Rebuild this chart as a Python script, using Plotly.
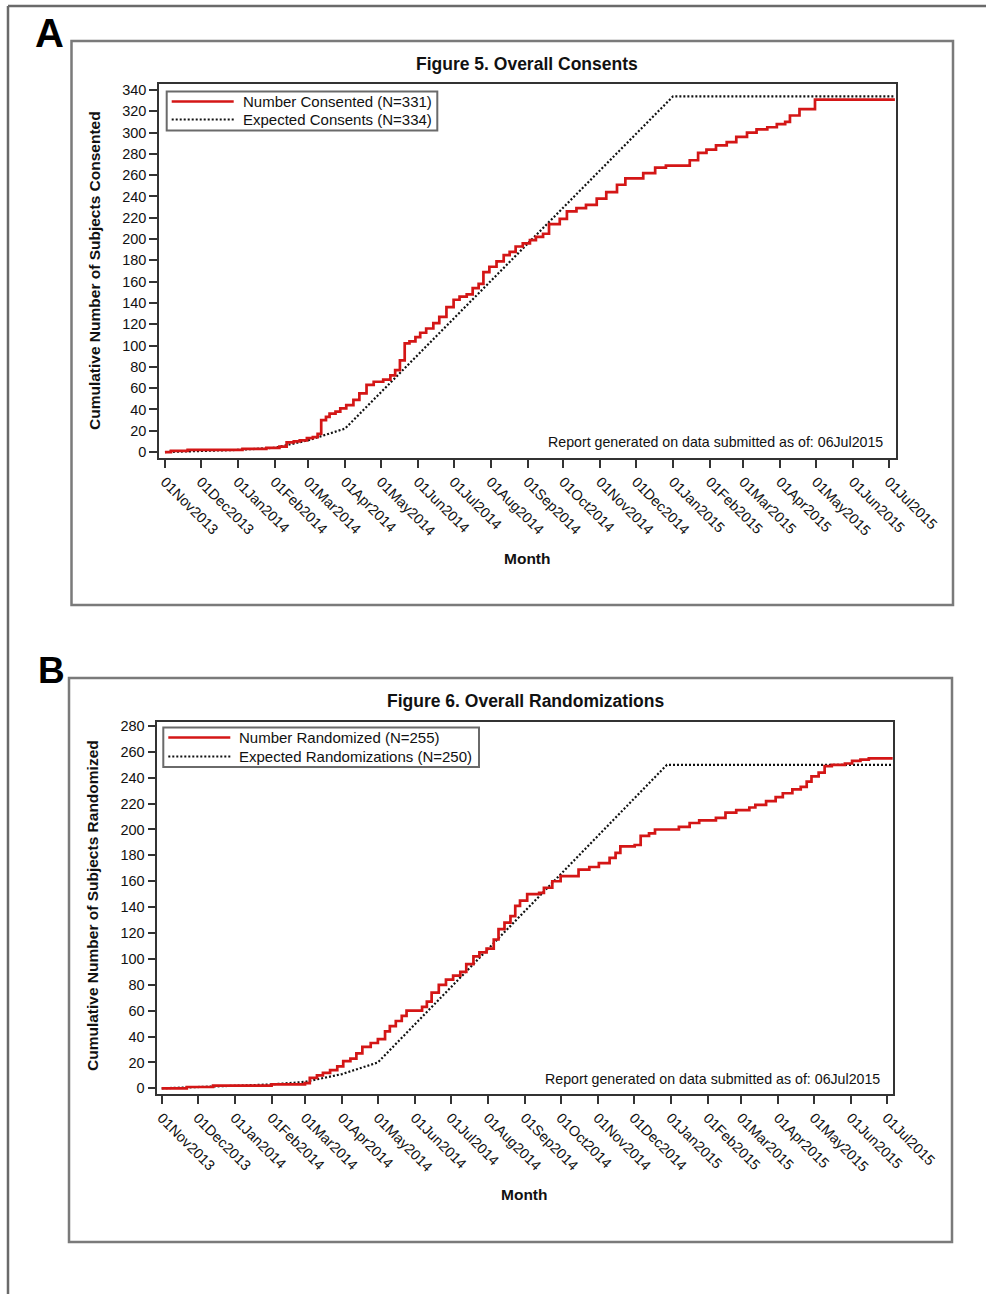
import plotly.graph_objects as go

# ---------------- Data ----------------
consent_dates = [
    "2013-11-01", "2013-11-06", "2013-11-20", "2014-01-05", "2014-01-25", "2014-02-05",
    "2014-02-11", "2014-02-17", "2014-02-22", "2014-02-28", "2014-03-05", "2014-03-09",
    "2014-03-12", "2014-03-16", "2014-03-19", "2014-03-24", "2014-03-28", "2014-04-02",
    "2014-04-08", "2014-04-13", "2014-04-19", "2014-04-25", "2014-05-03", "2014-05-09",
    "2014-05-13", "2014-05-17", "2014-05-21", "2014-05-25", "2014-05-30", "2014-06-03",
    "2014-06-08", "2014-06-14", "2014-06-19", "2014-06-25", "2014-07-01", "2014-07-06",
    "2014-07-12", "2014-07-17", "2014-07-22", "2014-07-26", "2014-07-31", "2014-08-06",
    "2014-08-12", "2014-08-17", "2014-08-22", "2014-08-28", "2014-09-03", "2014-09-08",
    "2014-09-14", "2014-09-19", "2014-09-28", "2014-10-04", "2014-10-12", "2014-10-20",
    "2014-10-29", "2014-11-06", "2014-11-15", "2014-11-22", "2014-12-07", "2014-12-17",
    "2014-12-26", "2015-01-15", "2015-01-22", "2015-01-29", "2015-02-06", "2015-02-15",
    "2015-02-23", "2015-03-04", "2015-03-12", "2015-03-21", "2015-03-29", "2015-04-05",
    "2015-04-09", "2015-04-17", "2015-04-30", "2015-07-06",
]
consent_values = [
    0, 1, 2, 3, 4, 5,
    9, 10, 11, 13, 14, 17,
    30, 33, 36, 38, 41, 44,
    49, 55, 63, 66, 68, 72,
    77, 86, 102, 104, 108, 112,
    116, 121, 127, 136, 143, 146,
    148, 154, 158, 169, 174, 179,
    185, 188, 193, 196, 199, 202,
    205, 214, 219, 226, 229, 232,
    238, 244, 251, 257, 262, 267,
    269, 274, 281, 284, 288, 291,
    296, 300, 303, 305, 308, 310,
    316, 322, 331, 331,
]
expected_consent_dates = ["2013-11-01", "2013-12-01", "2014-01-01", "2014-02-01",
                          "2014-03-01", "2014-04-01", "2015-01-01", "2015-07-06"]
expected_consent_values = [0, 1, 2, 4, 11, 22, 334, 334]

random_dates = [
    "2013-11-01", "2013-11-22", "2013-12-14", "2014-02-01", "2014-03-01", "2014-03-05",
    "2014-03-11", "2014-03-16", "2014-03-22", "2014-03-28", "2014-04-02", "2014-04-08",
    "2014-04-13", "2014-04-18", "2014-04-25", "2014-05-01", "2014-05-07", "2014-05-11",
    "2014-05-16", "2014-05-21", "2014-05-25", "2014-06-07", "2014-06-11", "2014-06-15",
    "2014-06-21", "2014-06-27", "2014-07-03", "2014-07-09", "2014-07-14", "2014-07-20",
    "2014-07-25", "2014-07-31", "2014-08-06", "2014-08-10", "2014-08-15", "2014-08-20",
    "2014-08-24", "2014-08-28", "2014-09-03", "2014-09-13", "2014-09-17", "2014-09-24",
    "2014-10-01", "2014-10-16", "2014-10-25", "2014-11-02", "2014-11-11", "2014-11-16",
    "2014-11-20", "2014-12-02", "2014-12-07", "2014-12-14", "2014-12-19", "2015-01-08",
    "2015-01-17", "2015-01-25", "2015-02-08", "2015-02-16", "2015-02-25", "2015-03-08",
    "2015-03-13", "2015-03-22", "2015-03-30", "2015-04-05", "2015-04-13", "2015-04-20",
    "2015-04-25", "2015-04-29", "2015-05-05", "2015-05-10", "2015-05-16", "2015-05-27",
    "2015-06-02", "2015-06-09", "2015-06-16", "2015-07-06",
]
random_values = [
    0, 1, 2, 3, 4, 8,
    10, 12, 14, 17, 21, 23,
    27, 32, 35, 38, 44, 48,
    52, 56, 60, 63, 67, 74,
    80, 84, 87, 90, 96, 102,
    105, 108, 115, 123, 128, 133,
    141, 145, 150, 151, 155, 160,
    164, 169, 171, 174, 178, 182,
    187, 188, 195, 197, 200, 202,
    205, 207, 209, 213, 215, 217,
    219, 222, 225, 228, 231, 233,
    237, 241, 244, 249, 250, 251,
    253, 254, 255, 255,
]
expected_random_dates = ["2013-11-01", "2013-12-01", "2014-01-01", "2014-02-01",
                         "2014-03-01", "2014-04-01", "2014-05-01", "2014-12-29", "2015-07-06"]
expected_random_values = [0, 1, 2, 3, 5, 11, 20, 250, 250]

panel_labels = ["A", "B"]
titles = ["Figure 5. Overall Consents", "Figure 6. Overall Randomizations"]
y_titles = ["Cumulative Number of Subjects Consented", "Cumulative Number of Subjects Randomized"]
legend_names = [["Number Consented (N=331)", "Expected Consents (N=334)"],
                ["Number Randomized (N=255)", "Expected Randomizations (N=250)"]]
x_title = "Month"
report_text = "Report generated on data submitted as of: 06Jul2015"
y_ticks = [list(range(0, 341, 20)), list(range(0, 281, 20))]

# ---------------- Layout helpers ----------------
W, H = 986, 1294
FONT = "Liberation Sans, Arial, Helvetica, sans-serif"
RED = "#d41616"


def px(x):
    return x / W


def py(y):
    return 1 - y / H


fig = go.Figure()

fig.add_trace(go.Scatter(x=expected_consent_dates, y=expected_consent_values, mode="lines",
                         line=dict(color="#111111", width=2.2, dash="2px,2px"),
                         xaxis="x", yaxis="y", showlegend=False))
fig.add_trace(go.Scatter(x=consent_dates, y=consent_values, mode="lines", line_shape="hv",
                         line=dict(color=RED, width=2.7), xaxis="x", yaxis="y", showlegend=False))
fig.add_trace(go.Scatter(x=expected_random_dates, y=expected_random_values, mode="lines",
                         line=dict(color="#111111", width=2.2, dash="2px,2px"),
                         xaxis="x2", yaxis="y2", showlegend=False))
fig.add_trace(go.Scatter(x=random_dates, y=random_values, mode="lines", line_shape="hv",
                         line=dict(color=RED, width=2.7), xaxis="x2", yaxis="y2", showlegend=False))

axis_common = dict(showline=True, mirror=True, linecolor="#333333", linewidth=1.5,
                   ticks="outside", ticklen=8, tickwidth=1.5, tickcolor="#333333",
                   showgrid=False, zeroline=False, fixedrange=True, automargin=False)

xcommon = dict(axis_common, type="date", tick0="2013-11-01", dtick="M1", tickformat="%d%b%Y",
               tickangle=45, tickfont=dict(family=FONT, size=14.5, color="#111111"))

fig.update_layout(
    width=W, height=H, autosize=False,
    margin=dict(l=0, r=0, t=0, b=0, pad=0),
    paper_bgcolor="white", plot_bgcolor="white",
    showlegend=False,
    xaxis=dict(xcommon, domain=[px(159), px(896)], anchor="y",
               range=["2013-10-27 00:00", "2015-07-06 22:00"]),
    yaxis=dict(axis_common, domain=[py(458), py(84)], anchor="x", range=[-5.6, 345.6],
               tickvals=y_ticks[0], tickfont=dict(family=FONT, size=14.5, color="#111111")),
    xaxis2=dict(xcommon, domain=[px(157.3), px(893.3)], anchor="y2",
                range=["2013-10-28 08:00", "2015-07-06 12:00"]),
    yaxis2=dict(axis_common, domain=[py(1094), py(721.7)], anchor="x2", range=[-4.4, 283.3],
                tickvals=y_ticks[1], tickfont=dict(family=FONT, size=14.5, color="#111111")),
)

shapes = []
annotations = []

# outer frame (top and left edges)
shapes.append(dict(type="line", xref="paper", yref="paper", x0=px(8), x1=px(986), y0=py(6), y1=py(6),
                   line=dict(color="#6a6a6a", width=2.5)))
shapes.append(dict(type="line", xref="paper", yref="paper", x0=px(8), x1=px(8), y0=py(6), y1=py(1294),
                   line=dict(color="#6a6a6a", width=2.5)))

panels = [
    dict(box=(71.5, 41, 953, 605), label=(33, 32.5, 40), title=(527, 64), ytitle=(95, 271),
         month=(527, 558), report=(885, 442), legend=(166.7, 91.5, 437.3, 130.5),
         rows=(101.5, 119.5)),
    dict(box=(69, 678, 952, 1242), label=(36, 670, 37), title=(525, 701), ytitle=(92, 906),
         month=(524, 1194), report=(882, 1079), legend=(163.3, 727.5, 479, 767),
         rows=(737.5, 756.5)),
]

for i, p in enumerate(panels):
    x0, y0, x1, y1 = p["box"]
    shapes.append(dict(type="rect", xref="paper", yref="paper", x0=px(x0), x1=px(x1), y0=py(y1), y1=py(y0),
                       line=dict(color="#7a7a7a", width=2.5)))
    lx, ly, ls = p["label"]
    annotations.append(dict(x=px(lx), y=py(ly), xref="paper", yref="paper", xanchor="left", yanchor="middle",
                            text="<b>%s</b>" % panel_labels[i], showarrow=False,
                            font=dict(family=FONT, size=ls, color="#000000")))
    tx, ty = p["title"]
    annotations.append(dict(x=px(tx), y=py(ty), xref="paper", yref="paper", xanchor="center", yanchor="middle",
                            text="<b>%s</b>" % titles[i], showarrow=False,
                            font=dict(family=FONT, size=17.5, color="#111111")))
    yx, yy = p["ytitle"]
    annotations.append(dict(x=px(yx), y=py(yy), xref="paper", yref="paper", xanchor="center", yanchor="middle",
                            text="<b>%s</b>" % y_titles[i], showarrow=False, textangle=-90,
                            font=dict(family=FONT, size=15.5, color="#111111")))
    mx, my = p["month"]
    annotations.append(dict(x=px(mx), y=py(my), xref="paper", yref="paper", xanchor="center", yanchor="middle",
                            text="<b>%s</b>" % x_title, showarrow=False,
                            font=dict(family=FONT, size=15.5, color="#111111")))
    rx, ry = p["report"]
    annotations.append(dict(x=px(rx), y=py(ry), xref="paper", yref="paper", xanchor="right", yanchor="middle",
                            text=report_text, showarrow=False,
                            font=dict(family=FONT, size=14.2, color="#111111")))
    gx0, gy0, gx1, gy1 = p["legend"]
    shapes.append(dict(type="rect", xref="paper", yref="paper", x0=px(gx0), x1=px(gx1), y0=py(gy1), y1=py(gy0),
                       line=dict(color="#6a6a6a", width=2), fillcolor="white", layer="above"))
    r1, r2 = p["rows"]
    shapes.append(dict(type="line", xref="paper", yref="paper", x0=px(gx0 + 5), x1=px(gx0 + 67),
                       y0=py(r1), y1=py(r1), line=dict(color=RED, width=2.7), layer="above"))
    shapes.append(dict(type="line", xref="paper", yref="paper", x0=px(gx0 + 5), x1=px(gx0 + 67),
                       y0=py(r2), y1=py(r2), line=dict(color="#111111", width=2.2, dash="2px,2px"),
                       layer="above"))
    for name, ry_ in zip(legend_names[i], (r1, r2)):
        annotations.append(dict(x=px(gx0 + 74), y=py(ry_), xref="paper", yref="paper", xanchor="left",
                                yanchor="middle", text=name, showarrow=False,
                                font=dict(family=FONT, size=15, color="#111111")))

fig.update_layout(shapes=shapes, annotations=annotations)

page_fix = ("document.body.style.margin='0';document.body.style.padding='0';"
            "document.body.style.overflow='hidden';")
fig.write_html("out.html", config={"responsive": False, "displayModeBar": False}, post_script=page_fix)
